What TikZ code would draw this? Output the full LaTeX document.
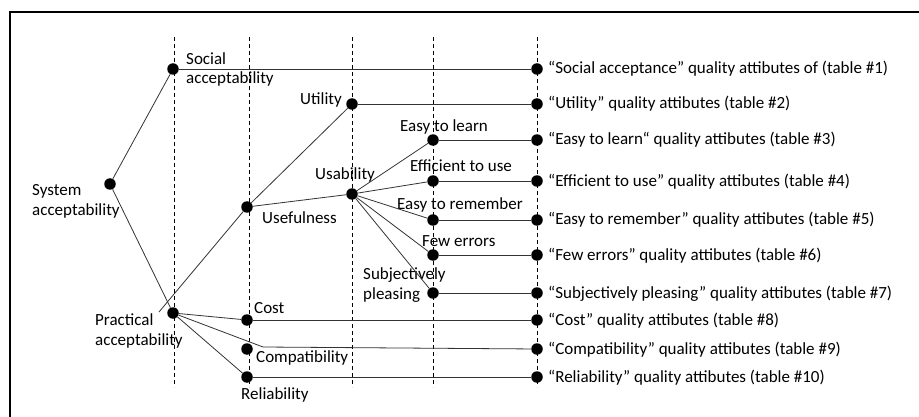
\documentclass[tikz,border=0pt]{standalone}
\usepackage{fontspec}
\setmainfont{Carlito}
\usetikzlibrary{arrows}

\tikzset{
  dot/.style={circle,fill=black,inner sep=0pt,minimum size=11.5pt},
  lbl/.style={inner sep=0pt,anchor=base west,align=left,font=\fontsize{17}{19.5}\selectfont},
  link/.style={black!80,line width=0.8pt},
  guide/.style={dash pattern=on 4pt off 3pt,line width=0.7pt}
}

\begin{document}
\begin{tikzpicture}[x=1pt,y=-1pt]
  \useasboundingbox (0,0) rectangle (919,417);
  \draw[line width=2pt] (10,417) -- (10,12) -- (919,12);

  \foreach \x in {174,249,352,433,537}
   { \draw[guide] (\x,37) -- (\x,387);}

  % tree dots
  \node[dot] (sys) at (110,184) {};
  \node[dot] (soc) at (173,69) {};
  \node[dot] (prac) at (173,313) {};
  \node[dot] (use) at (247,207) {};
  \node[dot] (cost) at (247,320) {};
  \node[dot] (comp) at (247,349) {};
  \node[dot] (rel) at (247,377) {};
  \node[dot] (util) at (352,104) {};
  \node[dot] (usab) at (352,194) {};
  \node[dot] (learn) at (433,140) {};
  \node[dot] (effic) at (433,181) {};
  \node[dot] (remem) at (433,220) {};
  \node[dot] (errs) at (433,255) {};
  \node[dot] (pleas) at (433,293) {};
  \coordinate (usex) at (159,312);
  \coordinate (compx) at (263,347);

  % tree labels (two-line ones sit on their last line)
  \node[lbl] (syst) at (32,215) {System\\acceptability};
  \node[lbl] (soct) at (186,84) {Social\\acceptability};
  \node[lbl] (pract) at (95,345) {Practical\\acceptability};
  \node[lbl,anchor=base east] (utilt) at (342,105) {Utility};
  \node[lbl] (usabt) at (315,180) {Usability};
  \node[lbl] (uset) at (262,223) {Usefulness};
  \node[lbl] (learnt) at (400,132) {Easy to learn};
  \node[lbl] (effict) at (410,172) {Efficient to use};
  \node[lbl] (rement) at (397,209) {Easy to remember};
  \node[lbl] (errst) at (422,247) {Few errors};
  \node[lbl] (pleast) at (363,299) {Subjectively\\pleasing};
  \node[lbl] (costt) at (254,313) {Cost};
  \node[lbl] (compt) at (256,362) {Compatibility};
  \node[lbl] (relt) at (241,399) {Reliability};

  % tree branches
  \draw[link] (sys) -- (soc);
  \draw[link] (sys) -- (prac);
  \draw[link] (use) -- (usex);
  \draw[link] (use) -- (util);
  \draw[link] (usab) -- (use);
  \draw[link] (prac) -- (cost);
  \draw[link] (prac) -- (compx);
  \draw[link] (prac) -- (rel);
  \foreach \b in {learn,effic,remem,errs,pleas}
   { \draw[link] (usab) -- (\b);}

  % quality attribute tables
  \foreach \y/\l/\n/\t in {
      69/soc/r1/{“Social acceptance” quality attibutes of (table \#1)},
      104/util/r2/{“Utility” quality attibutes (table \#2)},
      140/learn/r3/{“Easy to learn“ quality attibutes (table \#3)},
      181/effic/r4/{“Efficient to use” quality attibutes (table \#4)},
      220/remem/r5/{“Easy to remember” quality attibutes (table \#5)},
      255/errs/r6/{“Few errors” quality attibutes (table \#6)},
      293/pleas/r7/{“Subjectively pleasing” quality attibutes (table \#7)},
      320/cost/r8/{“Cost” quality attibutes (table \#8)},
      349/compx/r9/{“Compatibility” quality attibutes (table \#9)},
      377/rel/r10/{“Reliability” quality attibutes (table \#10)}}
   { \node[dot] (\n) at (537,\y) {};
     \node[lbl] (\n t) at (548,\y+5) {\t};
     \draw[link] (\l) -- (\n);
   }
\end{tikzpicture}
\end{document}
